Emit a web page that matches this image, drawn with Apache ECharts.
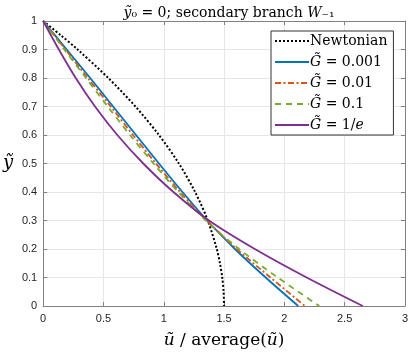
<!DOCTYPE html>
<html>
<head>
<meta charset="utf-8">
<script src="https://cdn.jsdelivr.net/npm/echarts@6/dist/echarts.min.js"></script>
<style>
  html, body { margin: 0; padding: 0; background: #fff; }
  #chart { width: 411px; height: 354px; }
</style>
</head>
<body>
<div id="chart"></div>
<script>
// y levels shared by the non-Newtonian curves
const yLevels = [1, 0.9, 0.8, 0.7, 0.6, 0.5, 0.4, 0.3, 0.2, 0.1, 0]
// u / average(u) at each y level
const uG0001 = [0, 0.195, 0.39, 0.58, 0.77, 0.96, 1.155, 1.36, 1.59, 1.845, 2.115]
const uG001 = [0, 0.185, 0.37, 0.56, 0.745, 0.935, 1.135, 1.355, 1.605, 1.885, 2.17]
const uG01 = [0, 0.175, 0.355, 0.535, 0.72, 0.915, 1.12, 1.35, 1.625, 1.945, 2.29]
const uGinvE = [0, 0.13, 0.27, 0.43, 0.615, 0.83, 1.08, 1.375, 1.755, 2.185, 2.65]

// Newtonian curve, denser near the wall
const yNewton = [1, 0.95, 0.9, 0.8, 0.7, 0.6, 0.5, 0.4, 0.3, 0.2, 0.15, 0.1, 0.05, 0]
const uNewton = [0, 0.146, 0.285, 0.54, 0.765, 0.96, 1.125, 1.26, 1.365, 1.44, 1.466, 1.485, 1.496, 1.5]

const seriesNames = ['Newtonian', '{i|G\u0303} = 0.001', '{i|G\u0303} = 0.01', '{i|G\u0303} = 0.1', '{i|G\u0303} = 1/{i|e}']

function pairs(us, ys) {
  return us.map((u, i) => [u, ys[i]])
}

const chart = echarts.init(document.getElementById('chart'))

const serif = '"DejaVu Serif", "Liberation Serif", serif'
const sans = '"Liberation Sans", Arial, sans-serif'
const axisColor = '#808080'

const baseX = {
  type: 'value',
  min: 0,
  max: 3,
  interval: 0.5,
  axisLine: { show: true, onZero: false, lineStyle: { color: axisColor, width: 1 } },
  axisTick: { show: true, inside: true, length: 4, lineStyle: { color: axisColor } },
  splitLine: { show: true, lineStyle: { color: '#e6e6e6', width: 1 } },
}
const baseY = {
  type: 'value',
  min: 0,
  max: 1,
  interval: 0.1,
  axisLine: { show: true, onZero: false, lineStyle: { color: axisColor, width: 1 } },
  axisTick: { show: true, inside: true, length: 4, lineStyle: { color: axisColor } },
  splitLine: { show: true, lineStyle: { color: '#e6e6e6', width: 1 } },
}

const lineSeries = (name, data, color, type, width) => ({
  name,
  type: 'line',
  data,
  smooth: 0.3,
  showSymbol: false,
  symbol: 'none',
  xAxisIndex: 0,
  yAxisIndex: 0,
  lineStyle: { color, type, width },
  itemStyle: { color },
  emphasis: { disabled: true },
})

const option = {
  animation: false,
  backgroundColor: '#fff',
  title: {
    text: '{i|\u1EF9}\u2080 = 0; secondary branch {i|W}\u208B\u2081',
    left: 224,
    textAlign: 'center',
    top: 1,
    textStyle: {
      fontFamily: serif,
      fontWeight: 'normal',
      fontSize: 14,
      color: '#000',
      rich: { i: { fontFamily: serif, fontStyle: 'italic', fontSize: 14, color: '#000' } },
    },
  },
  grid: { left: 41, right: 4, top: 21, bottom: 44, containLabel: false },
  legend: {
    orient: 'vertical',
    left: 271,
    top: 31,
    itemWidth: 34,
    itemHeight: 14,
    itemGap: 7,
    padding: [3, 6, 3, 3],
    backgroundColor: '#fff',
    borderColor: '#333',
    borderWidth: 1,
    borderRadius: 0,
    data: seriesNames,
    // hide the marker, keep the line sample
    itemStyle: { opacity: 0 },
    textStyle: {
      fontFamily: serif,
      fontSize: 14,
      color: '#000',
      padding: [0, 0, 0, -4],
      rich: { i: { fontFamily: serif, fontStyle: 'italic', fontSize: 14, color: '#000' } },
    },
  },
  xAxis: [
    Object.assign({}, baseX, {
      position: 'bottom',
      name: '{i|\u0169} / average({i|\u0169})',
      nameLocation: 'middle',
      nameGap: 26,
      nameTextStyle: {
        fontFamily: serif,
        fontSize: 17,
        color: '#000',
        rich: { i: { fontFamily: serif, fontStyle: 'italic', fontSize: 17, color: '#000' } },
      },
      axisLabel: { fontFamily: sans, fontSize: 11, color: '#262626', margin: 7 },
    }),
    Object.assign({}, baseX, {
      position: 'top',
      axisLabel: { show: false },
      splitLine: { show: false },
    }),
  ],
  yAxis: [
    Object.assign({}, baseY, {
      position: 'left',
      name: '\u1EF9',
      nameLocation: 'middle',
      nameRotate: 0,
      nameGap: 30,
      nameTextStyle: { fontFamily: serif, fontStyle: 'italic', fontSize: 18, color: '#000' },
      axisLabel: { fontFamily: sans, fontSize: 11, color: '#262626', margin: 6 },
    }),
    Object.assign({}, baseY, {
      position: 'right',
      axisLabel: { show: false },
      splitLine: { show: false },
    }),
  ],
  series: [
    lineSeries(seriesNames[0], pairs(uNewton, yNewton), '#000000', [2, 2], 2),
    lineSeries(seriesNames[1], pairs(uG0001, yLevels), '#0072BD', 'solid', 1.8),
    lineSeries(seriesNames[2], pairs(uG001, yLevels), '#D95319', [6, 2.5, 2, 2.5], 1.8),
    lineSeries(seriesNames[3], pairs(uG01, yLevels), '#77AC30', [6, 5], 1.8),
    lineSeries(seriesNames[4], pairs(uGinvE, yLevels), '#7E2F8E', 'solid', 1.8),
  ],
}

chart.setOption(option)
</script>
</body>
</html>
